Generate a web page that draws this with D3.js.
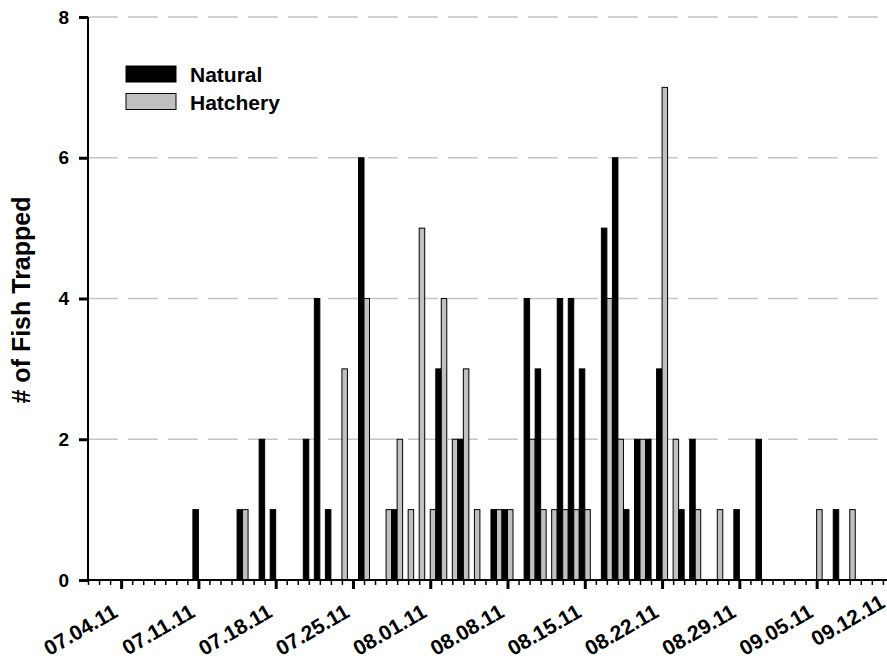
<!DOCTYPE html>
<html>
<head>
<meta charset="utf-8">
<script src="https://cdn.jsdelivr.net/npm/d3@7"></script>
<style>
  html, body { margin: 0; padding: 0; background: #fff; }
  svg { display: block; }
  text { font-family: "Liberation Sans", Arial, sans-serif; font-weight: bold; fill: #000; }
</style>
</head>
<body>
<svg id="chart" width="887" height="662"></svg>
<script>
// Daily trap counts (days without fish are omitted)
const trapDates = [
  "2011-07-11", "2011-07-15", "2011-07-17", "2011-07-18", "2011-07-21", "2011-07-22",
  "2011-07-23", "2011-07-24", "2011-07-26", "2011-07-28", "2011-07-29", "2011-07-30",
  "2011-07-31", "2011-08-01", "2011-08-02", "2011-08-03", "2011-08-04", "2011-08-05",
  "2011-08-07", "2011-08-08", "2011-08-10", "2011-08-11", "2011-08-12", "2011-08-13",
  "2011-08-14", "2011-08-15", "2011-08-17", "2011-08-18", "2011-08-19", "2011-08-20",
  "2011-08-21", "2011-08-22", "2011-08-23", "2011-08-24", "2011-08-25", "2011-08-27",
  "2011-08-29", "2011-08-31", "2011-09-05", "2011-09-07", "2011-09-08"
];
const naturalCounts = [
  1, 1, 2, 1, 2, 4,
  1, 0, 6, 0, 1, 0,
  0, 0, 3, 0, 2, 0,
  1, 1, 4, 3, 0, 4,
  4, 3, 5, 6, 1, 2,
  2, 3, 0, 1, 2, 0,
  1, 2, 0, 1, 0
];
const hatcheryCounts = [
  0, 1, 0, 0, 0, 0,
  0, 3, 4, 1, 2, 1,
  5, 1, 4, 2, 3, 1,
  1, 1, 2, 1, 1, 1,
  1, 1, 4, 2, 0, 2,
  0, 7, 2, 0, 1, 1,
  0, 0, 1, 0, 1
];
const seriesNames = ["Natural", "Hatchery"];
const seriesFills = ["#000000", "#c0c0c0"];
const tickLabels = ["07.04.11", "07.11.11", "07.18.11", "07.25.11", "08.01.11", "08.08.11",
                    "08.15.11", "08.22.11", "08.29.11", "09.05.11", "09.12.11"];
const yTicks = [0, 2, 4, 6, 8];

const parseDay = d3.utcParse("%Y-%m-%d");
const parseLabel = d3.utcParse("%m.%d.%y");

const W = 887, H = 662;
const svg = d3.select("#chart");
const plotLeft = 88, plotBottom = 580, plotTop = 17;
const dayPx = 11.04;

const startDay = parseDay("2011-07-01");
const endDay = parseDay("2011-09-15");
const x = d3.scaleUtc()
  .domain([startDay, endDay])
  .range([plotLeft, plotLeft + d3.utcDay.count(startDay, endDay) * dayPx]);
const y = d3.scaleLinear().domain([0, 8]).range([plotBottom, plotTop]);

// Dashed horizontal gridlines
svg.append("g")
  .selectAll("line")
  .data(yTicks.filter(v => v > 0))
  .join("line")
  .attr("x1", plotLeft).attr("x2", W)
  .attr("y1", d => y(d)).attr("y2", d => y(d))
  .attr("stroke", "#c4c4c4")
  .attr("stroke-width", 1.5)
  .attr("stroke-dasharray", "30,10");

// Paired daily bars: natural left of the day tick, hatchery right of it
const bw = 5.5;
const rows = trapDates.map((d, i) => ({
  date: parseDay(d),
  values: [naturalCounts[i], hatcheryCounts[i]]
}));
const bars = svg.append("g");
rows.forEach(r => {
  r.values.forEach((v, s) => {
    if (v <= 0) return;
    const cx = x(r.date);
    bars.append("rect")
      .attr("x", s === 0 ? cx - bw : cx)
      .attr("y", y(v))
      .attr("width", bw)
      .attr("height", y(0) - y(v))
      .attr("fill", seriesFills[s])
      .attr("stroke", "#000")
      .attr("stroke-width", 1);
  });
});

// X axis: daily minor ticks, weekly labelled major ticks
const majorDates = tickLabels.map(t => parseLabel(t));
const minorDates = d3.utcDay.range(startDay, endDay);
const xAxisMinor = d3.axisBottom(x).tickValues(minorDates).tickSize(5).tickFormat("");
const gxm = svg.append("g").attr("transform", `translate(0,${plotBottom})`).call(xAxisMinor);
gxm.select(".domain").remove();
gxm.selectAll(".tick line").attr("stroke", "#000").attr("stroke-width", 1.5);

const xAxisMajor = d3.axisBottom(x).tickValues(majorDates).tickSize(9).tickFormat("");
const gxM = svg.append("g").attr("transform", `translate(0,${plotBottom})`).call(xAxisMajor);
gxM.select(".domain").remove();
gxM.selectAll(".tick line").attr("stroke", "#000").attr("stroke-width", 3);

svg.append("line")
  .attr("x1", plotLeft).attr("x2", x(endDay))
  .attr("y1", plotBottom).attr("y2", plotBottom)
  .attr("stroke", "#000").attr("stroke-width", 2);

// Slanted date labels; a label that would run past the right edge is lifted back inside
const svgBox = svg.node().getBoundingClientRect();
const labelY = plotBottom + 36;
svg.append("g")
  .selectAll("text")
  .data(majorDates)
  .join("text")
  .attr("text-anchor", "end")
  .attr("font-size", 21)
  .attr("transform", d => `translate(${x(d) - 2},${labelY}) rotate(-30)`)
  .text((d, i) => tickLabels[i])
  .each(function(d) {
    const r = this.getBoundingClientRect();
    const over = r.right - svgBox.left - (W - 2);
    if (over > 0) {
      const s = over * 1.2;
      d3.select(this).attr("transform",
        `translate(${x(d) - 2 - s * 0.5},${labelY - s * 0.866}) rotate(-30)`);
    }
  });

// Y axis
const yAxis = d3.axisLeft(y).tickValues(yTicks).tickSize(9).tickPadding(10).tickFormat(d3.format("d"));
const gy = svg.append("g").attr("transform", `translate(${plotLeft},0)`).call(yAxis);
gy.select(".domain").remove();
gy.selectAll(".tick line").attr("stroke", "#000").attr("stroke-width", 3);
gy.selectAll(".tick text")
  .attr("font-size", 19)
  .attr("font-family", "Liberation Sans, Arial, sans-serif")
  .attr("font-weight", "bold")
  .attr("fill", "#000");
svg.append("line")
  .attr("x1", plotLeft).attr("x2", plotLeft)
  .attr("y1", plotTop).attr("y2", plotBottom)
  .attr("stroke", "#000").attr("stroke-width", 2);

svg.append("text")
  .attr("text-anchor", "middle")
  .attr("font-size", 25)
  .attr("transform", `translate(30,300) rotate(-90)`)
  .text("# of Fish Trapped");

// Legend
const legend = svg.append("g");
seriesNames.forEach((name, i) => {
  const ly = 66 + i * 27.5;
  legend.append("rect")
    .attr("x", 126).attr("y", ly)
    .attr("width", 50).attr("height", 16)
    .attr("fill", seriesFills[i])
    .attr("stroke", "#000").attr("stroke-width", 1);
  legend.append("text")
    .attr("x", 190).attr("y", ly + 16)
    .attr("font-size", 21)
    .text(name);
});
</script>
</body>
</html>
